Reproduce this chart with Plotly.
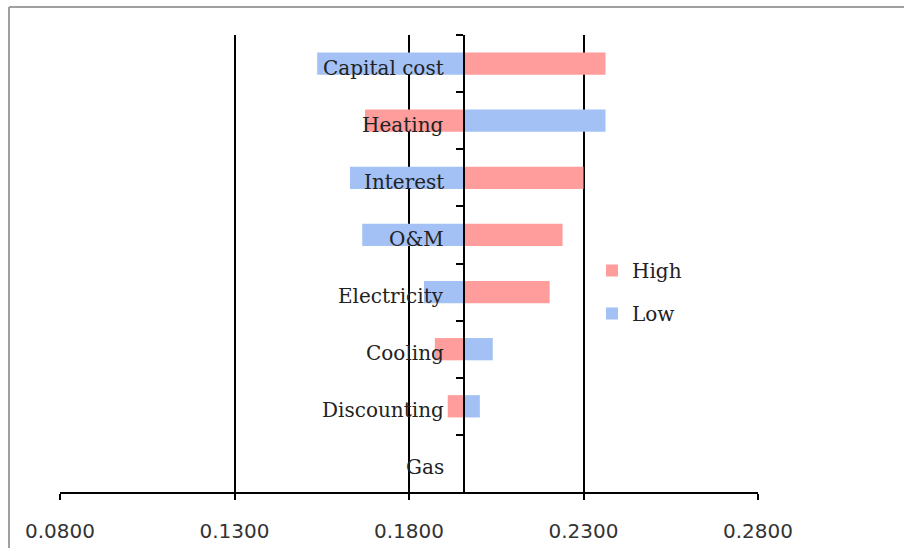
import plotly.graph_objects as go

categories = ["Capital cost", "Heating", "Interest", "O&M", "Electricity", "Cooling", "Discounting", "Gas"]
base_value = 0.1957
high_values = [0.2363, 0.1674, 0.2300, 0.2240, 0.2203, 0.1874, 0.1911, 0.1957]
low_values = [0.1537, 0.2363, 0.1631, 0.1666, 0.1843, 0.2040, 0.2003, 0.1957]
x_ticks = [0.08, 0.13, 0.18, 0.23, 0.28]

FONT = "DejaVu Serif"
RED = "#ff9c9c"
BLUE = "#a3c1f5"

fig = go.Figure()
fig.add_trace(go.Bar(
    name="High", y=categories, x=[v - base_value for v in high_values],
    base=base_value, orientation="h", marker=dict(color=RED, line=dict(width=0)),
    width=0.39, legendgroup="h"))
fig.add_trace(go.Bar(
    name="Low", y=categories, x=[v - base_value for v in low_values],
    base=base_value, orientation="h", marker=dict(color=BLUE, line=dict(width=0)),
    width=0.39, legendgroup="l"))

W, H = 904, 548
L, R, T, B = 60, 146, 35, 56
pw = W - L - R
ph = H - T - B

def px_x(sx):  # screen x -> paper fraction
    return (sx - L) / pw

def px_y(sy):  # screen y -> paper fraction
    return (H - B - sy) / ph

fig.update_layout(
    width=W, height=H,
    margin=dict(l=L, r=R, t=T, b=B, autoexpand=False),
    paper_bgcolor="white", plot_bgcolor="white",
    barmode="overlay",
    font=dict(family=FONT, size=20, color="#222"),
    showlegend=True,
    legend=dict(x=px_x(592), y=px_y(251), xanchor="left", yanchor="top",
                tracegroupgap=14, font=dict(size=20, family=FONT, color="#222"),
                bgcolor="rgba(0,0,0,0)", itemwidth=30),
    xaxis=dict(range=[0.08, 0.28], tickvals=x_ticks, tickformat=".4f",
               showgrid=True, gridcolor="black", gridwidth=1.5,
               showline=True, linecolor="black", linewidth=1.5,
               ticks="outside", ticklen=6, tickcolor="black", tickwidth=1.5,
               ticklabelstandoff=14, zeroline=False, automargin=False,
               tickfont=dict(family="DejaVu Sans", size=20, color="#333")),
    yaxis=dict(categoryorder="array", categoryarray=categories, autorange="reversed",
               anchor="free", position=(base_value - 0.08) / 0.2,
               showline=True, linecolor="black", linewidth=1.5,
               ticks="outside", ticklen=7, tickcolor="black", tickwidth=1.5,
               tickson="boundaries", showgrid=False, zeroline=False,
               showticklabels=False, automargin=False),
)

# category labels, sitting just left of the centre axis and slightly below bar centre
for cat in categories:
    fig.add_annotation(x=base_value, y=cat, xref="x", yref="y", text=cat,
                       showarrow=False, xanchor="right", yanchor="middle",
                       xshift=-18, yshift=-4,
                       font=dict(family=FONT, size=20, color="#222"))

frame = dict(color="#a0a0a0", width=2)
# left edge of the chart-area frame
fig.add_shape(type="line", xref="paper", yref="paper",
              x0=px_x(9), x1=px_x(9), y0=px_y(H + 10), y1=px_y(7),
              line=frame, layer="below")
# top edge of the chart-area frame
fig.add_shape(type="line", xref="paper", yref="paper",
              x0=px_x(9), x1=px_x(W + 40), y0=px_y(7), y1=px_y(7),
              line=frame, layer="below")

fig.write_html(
    "out.html",
    config={"displayModeBar": False},
    post_script="document.body.style.margin='0';document.body.style.overflow='hidden';",
)
